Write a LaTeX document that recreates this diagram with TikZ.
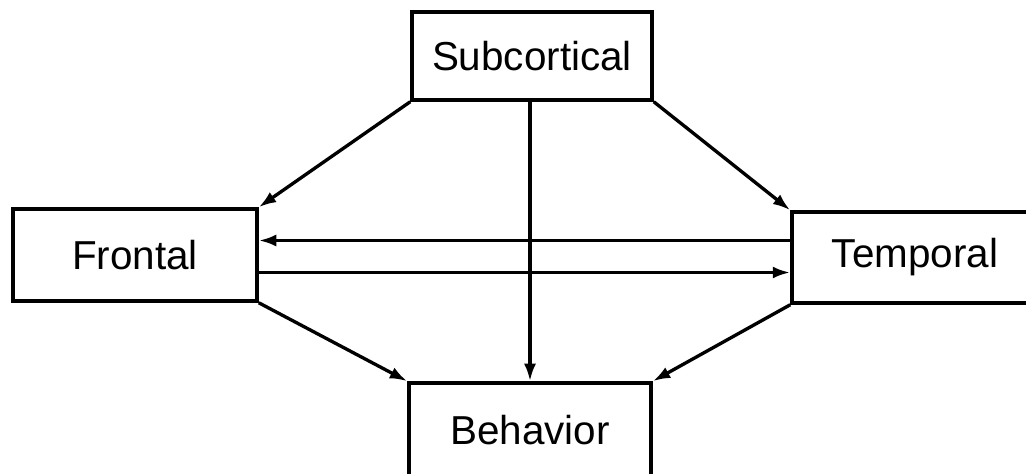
\documentclass[tikz,border=0pt]{standalone}
\usepackage{fontspec}
\setmainfont{Liberation Sans}
\usetikzlibrary{arrows.meta}

\begin{document}
\begin{tikzpicture}[
  region/.style={draw, line width=2pt, font=\fontsize{23}{27}\selectfont},
  link/.style={line width=1.9pt, -{Latex[length=3.5mm,width=2.4mm]}}
]
\useasboundingbox (0,0) rectangle (20.52,9.46);
\clip (0,0) rectangle (20.52,9.46);
\node[region, minimum width=4.8cm, minimum height=1.76cm] (subcortical) at (10.64,8.34) {Subcortical};
\node[region, minimum width=4.88cm, minimum height=1.84cm] (frontal) at (2.70,4.36) {Frontal};
\node[region, minimum width=4.92cm, minimum height=1.82cm] (temporal) at (18.30,4.31) {Temporal};
\node[region, minimum width=4.84cm, minimum height=1.9cm] (behavior) at (10.60,0.85) {Behavior};
\draw[link] (subcortical.south west) -- (frontal.north east);
\draw[link] (subcortical.south east) -- (temporal.north west);
\draw[link] (behavior.north |- subcortical.south) -- (behavior.north);
\draw[link] ([yshift=2.9mm]frontal.east -| temporal.west) -- ([yshift=2.9mm]frontal.east);
\draw[link] ([yshift=-3.5mm]frontal.east) -- ([yshift=-3.5mm]frontal.east -| temporal.west);
\draw[link] (frontal.south east) -- (behavior.north west);
\draw[link] (temporal.south west) -- (behavior.north east);
\end{tikzpicture}
\end{document}
